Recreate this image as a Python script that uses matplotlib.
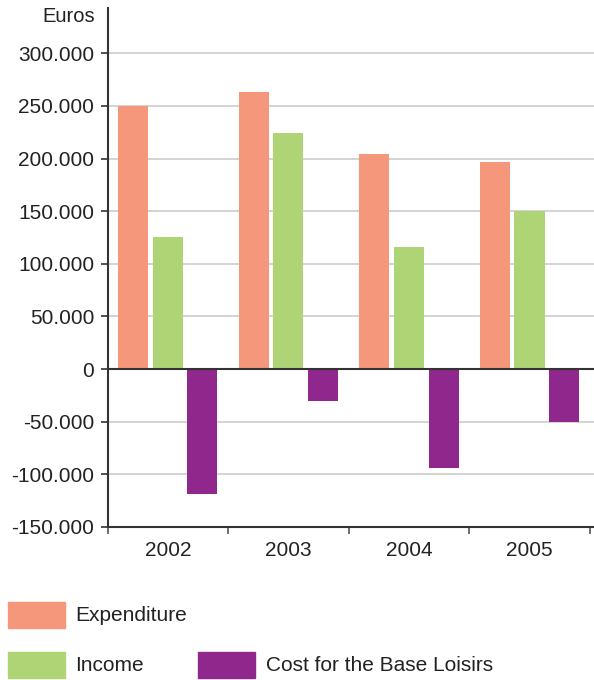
import matplotlib
matplotlib.use("Agg")
import matplotlib.pyplot as plt
from matplotlib.patches import Rectangle
from matplotlib.ticker import FuncFormatter
import numpy as np

plt.rcParams['font.family'] = ['Liberation Sans', 'DejaVu Sans']

years = ["2002", "2003", "2004", "2005"]
series_names = ["Expenditure", "Income", "Cost for the Base Loisirs"]
expenditure = [250000, 263000, 204000, 197000]
income = [125000, 224000, 116000, 150000]
cost_base_loisirs = [-118500, -30000, -94000, -50000]
colors = ["#F5977A", "#AFD476", "#90278C"]
y_ticks = [-150000, -100000, -50000, 0, 50000, 100000, 150000, 200000, 250000, 300000]

fig = plt.figure(figsize=(5.94, 6.80), dpi=100)
W, H = 594, 680
ax = fig.add_axes([107.5 / W, (H - 527) / H, (594 - 107.5) / W, (527 - 8) / H])

x = np.arange(len(years))
width = 0.249
offset = 0.287
for i, (vals, col) in enumerate(zip([expenditure, income, cost_base_loisirs], colors)):
    ax.bar(x + (i - 1) * offset, vals, width=width, color=col, zorder=2)

ax.set_xlim(-0.5, 3.535)
ax.set_ylim(-150000, 343000)

ax.set_yticks(y_ticks)
ax.yaxis.set_major_formatter(FuncFormatter(lambda v, p: f"{int(v):,}".replace(",", ".")))
ax.grid(axis='y', color='#cccccc', linewidth=1.2, zorder=0)
ax.axhline(0, color='#333333', linewidth=1.5, zorder=3)

ax.set_xticks(np.arange(-0.5, 4.0, 1.0))
ax.set_xticklabels([])
ax.set_xticks(x, minor=True)
ax.set_xticklabels(years, minor=True)
ax.tick_params(axis='x', which='minor', length=0, pad=10, labelsize=15, labelcolor='#222222')
ax.tick_params(axis='x', which='major', length=5, width=1.2, color='#555555')
ax.tick_params(axis='y', length=5, width=1.2, color='#333333', pad=4.5, labelsize=15,
               labelcolor='#222222')

for s in ['top', 'right']:
    ax.spines[s].set_visible(False)
for s in ['left', 'bottom']:
    ax.spines[s].set_color('#333333')
    ax.spines[s].set_linewidth(1.5)

fig.text(94.5 / W, 1 - 17 / H, "Euros", ha='right', va='center', fontsize=14.5, color='#222222')

# Legend: Expenditure on the first row, Income and Cost on the second
legend_slots = [(7.5, 602), (7.5, 652), (198, 652)]
for name, col, (lx, ly) in zip(series_names, colors, legend_slots):
    fig.patches.append(Rectangle((lx / W, 1 - (ly + 25.7) / H), 57 / W, 25.7 / H,
                                 transform=fig.transFigure, color=col, figure=fig))
    fig.text((lx + 68) / W, 1 - (ly + 13.5) / H, name, ha='left', va='center',
             fontsize=15, color='#222222')

fig.savefig("out.png", dpi=100)
